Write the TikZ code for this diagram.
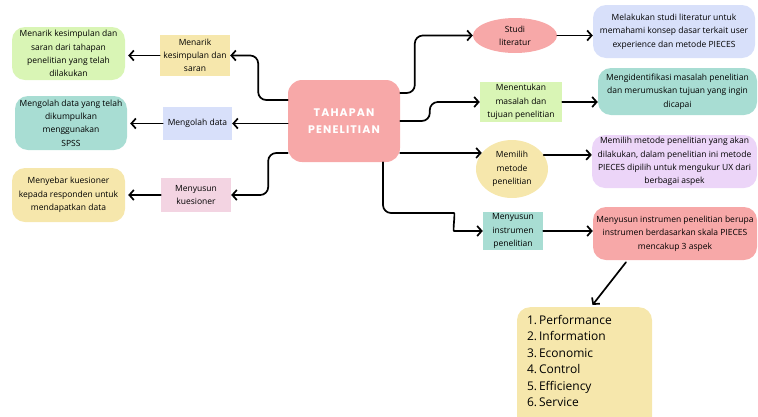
\documentclass[tikz,border=0pt]{standalone}
\usepackage{fontspec}
\setmainfont{Open Sans}
\newfontfamily\titlefont[LetterSpace=10,BoldFont={Poppins Bold}]{Poppins}
\usepackage{tikz}
\usetikzlibrary{arrows.meta,shapes.geometric}
\definecolor{rosa}{RGB}{247,168,168}
\definecolor{krem}{RGB}{246,231,172}
\definecolor{biru}{RGB}{216,224,250}
\definecolor{hijau}{RGB}{217,245,181}
\definecolor{tosca}{RGB}{168,221,211}
\definecolor{merahmuda}{RGB}{243,212,226}
\definecolor{ungu}{RGB}{236,213,248}

\begin{document}
\begin{tikzpicture}[line cap=round,line join=round,>={Straight Barb[length=4.5pt,width=10pt]},x=1pt,y=-1pt,
  font=\fontsize{8.5}{13.3}\selectfont,
  panah/.style={->,line width=1.7pt,rounded corners=8pt},
  kotak/.style={align=center,inner sep=2pt,minimum width=#1},
  kartu/.style={align=center,inner sep=2pt,rounded corners=13pt,minimum width=#1},
  lonjong/.style={ellipse,align=center,inner sep=0pt,minimum width=#1}]
\useasboundingbox (0,0) rectangle (758,416);
\clip (0,0) rectangle (758,416);
% pusat
\node[fill=rosa,rounded corners=14pt,minimum width=112,minimum height=82,align=center,
  text=white,font=\titlefont\bfseries\fontsize{11}{17}\selectfont] (tahapan) at (344,121) {TAHAPAN\\PENELITIAN};
% kiri
\node[kotak=70,fill=krem,minimum height=41] (kesimpulan) at (195,55.5) {Menarik\\kesimpulan dan\\saran};
\node[kotak=69,fill=biru,minimum height=33] (olah) at (197.5,123.5) {Mengolah data};
\node[kotak=70,fill=merahmuda,minimum height=34] (kuesioner) at (196,195) {Menyusun\\kuesioner};
\node[kartu=113,fill=hijau,minimum height=53] (ketkesimpulan) at (68.5,53.5) {Menarik kesimpulan dan\\saran dari tahapan\\penelitian yang telah\\dilakukan};
\node[kartu=112,fill=tosca,minimum height=54] (ketolah) at (71,123) {Mengolah data yang telah\\dikumpulkan\\menggunakan\\SPSS};
\node[kartu=113,fill=krem,minimum height=54] (ketkuesioner) at (68.5,195) {Menyebar kuesioner\\kepada responden untuk\\mendapatkan data};
% kanan
\node[lonjong=84,fill=rosa,minimum height=35] (studi) at (515,35.5) {Studi\\literatur};
\node[kartu=162,fill=biru,minimum height=53] (ketstudi) at (674,31.5) {Melakukan studi literatur untuk\\memahami konsep dasar terkait user\\experience dan metode PIECES};
\node[kotak=82,fill=hijau,minimum height=40] (masalah) at (521,102) {Menentukan\\masalah dan\\tujuan penelitian};
\node[kartu=159,fill=tosca,minimum height=47] (ketmasalah) at (677.5,91.5) {Mengidentifikasi masalah penelitian\\dan merumuskan tujuan yang ingin\\dicapai};
\node[lonjong=72,fill=krem,minimum height=58] (metode) at (512,169) {Memilih\\metode\\penelitian};
\node[kartu=165,fill=ungu,minimum height=53] (ketmetode) at (674.5,161.5) {Memilih metode penelitian yang akan\\dilakukan, dalam penelitian ini metode\\PIECES dipilih untuk mengukur UX dari\\berbagai aspek};
\node[kotak=60,fill=tosca,minimum height=36] (instrumen) at (513,231) {Menyusun\\instrumen\\penelitian};
\node[kartu=164,fill=rosa,minimum height=53] (ketinstrumen) at (675,233.5) {Menyusun instrumen penelitian berupa\\instrumen berdasarkan skala PIECES\\mencakup 3 aspek};
\node[fill=krem,rounded corners=13pt,anchor=north,text width=115,inner xsep=10pt,inner ysep=8pt,
  align=left,font=\fontsize{12}{16.5}\selectfont] (aspek) at (584.5,307)
  {1.\,Performance\\2.\,Information\\3.\,Economic\\4.\,Control\\5.\,Efficiency\\6.\,Service\\\mbox{}};
% panah
\draw[panah] (tahapan.west |- 0,100) -| ([xshift=28pt]kesimpulan.east) -- (kesimpulan.east);
\draw[panah] (tahapan.west |- olah.east) -- (olah.east);
\draw[panah] (tahapan.west |- 0,153) -| ([xshift=37pt]kuesioner.east) -- (kuesioner.east);
\draw[panah] (kesimpulan.west) -- ([xshift=3pt]ketkesimpulan.east |- kesimpulan.west);
\draw[panah] (olah.west) -- ([xshift=3pt]ketolah.east |- olah.west);
\draw[panah] (kuesioner.west) -- ([xshift=3pt]ketkuesioner.east |- kuesioner.west);
\draw[panah] (tahapan.east |- 0,93) -| ([xshift=-58pt]studi.west) -- (studi.west);
\draw[panah] (tahapan.east |- 0,121) -| ([xshift=-50pt]masalah.west) -- (masalah.west);
\draw[panah] (tahapan.east |- metode.152) -- (metode.152);
\draw[panah] ([xshift=39pt]tahapan.south) |- (446,213) to[out=0,in=180] (462,231) -- (instrumen.west);
\draw[panah] (studi.east) -- (ketstudi.west |- studi.east);
\draw[panah] (masalah.east) -- (ketmasalah.west |- masalah.east);
\draw[panah] (metode.24) -- (ketmetode.west |- metode.24);
\draw[panah] (instrumen.east) -- (ketinstrumen.west |- instrumen.east);
\draw[panah] ([xshift=-49pt,yshift=-2pt]ketinstrumen.south) -- ([xshift=8pt,yshift=2pt]aspek.north);
\end{tikzpicture}
\end{document}
